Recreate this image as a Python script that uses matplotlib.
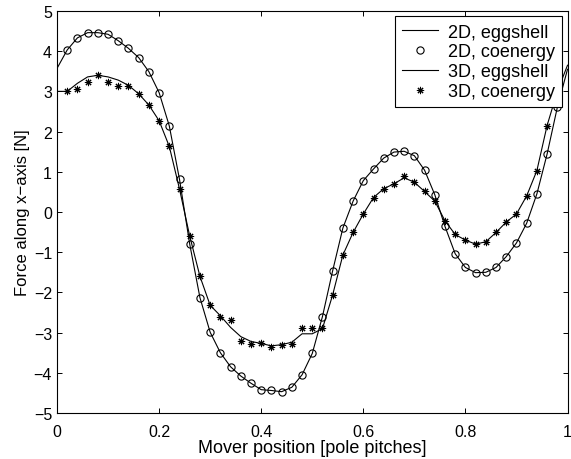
import numpy as np
import matplotlib
matplotlib.use("Agg")
import matplotlib.pyplot as plt

plt.rcParams['font.family'] = ['Liberation Sans', 'DejaVu Sans']

# Mover position grid for lines (pole pitches)
x_line = [0.00, 0.02, 0.04, 0.06, 0.08, 0.10, 0.12, 0.14, 0.16, 0.18, 0.20,
          0.22, 0.24, 0.26, 0.28, 0.30, 0.32, 0.34, 0.36, 0.38, 0.40,
          0.42, 0.44, 0.46, 0.48, 0.50, 0.52, 0.54, 0.56, 0.58, 0.60,
          0.62, 0.64, 0.66, 0.68, 0.70, 0.72, 0.74, 0.76, 0.78, 0.80,
          0.82, 0.84, 0.86, 0.88, 0.90, 0.92, 0.94, 0.96, 0.98, 1.00]

f2d_eggshell = [3.57, 4.03, 4.33, 4.46, 4.46, 4.42, 4.26, 4.07, 3.84, 3.49, 2.97,
                2.14, 0.81, -0.80, -2.13, -2.99, -3.50, -3.85, -4.08, -4.26, -4.42,
                -4.44, -4.47, -4.36, -4.05, -3.52, -2.60, -1.46, -0.40, 0.27, 0.78,
                1.07, 1.34, 1.49, 1.51, 1.40, 1.04, 0.43, -0.36, -1.04, -1.38,
                -1.51, -1.50, -1.38, -1.11, -0.77, -0.28, 0.45, 1.44, 2.60, 3.55]

f3d_eggshell = [3.00, 3.00, 3.20, 3.36, 3.40, 3.36, 3.28, 3.15, 2.94, 2.66, 2.27,
                1.63, 0.57, -0.60, -1.60, -2.32, -2.58, -2.87, -3.10, -3.22, -3.27,
                -3.33, -3.30, -3.24, -3.03, -3.03, -2.90, -2.06, -1.07, -0.51, -0.05,
                0.36, 0.58, 0.70, 0.85, 0.74, 0.51, 0.27, -0.22, -0.56, -0.70,
                -0.80, -0.74, -0.51, -0.25, -0.05, 0.40, 1.03, 2.15, 3.00, 3.65]

# Coenergy samples
x_pts = x_line[1:-1]

f2d_coenergy = [4.03, 4.33, 4.46, 4.46, 4.42, 4.26, 4.07, 3.84, 3.49, 2.97,
                2.14, 0.81, -0.80, -2.13, -2.99, -3.50, -3.85, -4.08, -4.26, -4.42,
                -4.44, -4.47, -4.36, -4.05, -3.52, -2.60, -1.46, -0.40, 0.27, 0.78,
                1.07, 1.34, 1.49, 1.51, 1.40, 1.04, 0.43, -0.36, -1.04, -1.38,
                -1.51, -1.50, -1.38, -1.11, -0.77, -0.28, 0.45, 1.44, 2.60]

f3d_coenergy = [3.00, 3.06, 3.23, 3.41, 3.24, 3.14, 3.13, 2.93, 2.66, 2.27,
                1.63, 0.57, -0.60, -1.60, -2.32, -2.61, -2.68, -3.21, -3.28, -3.27,
                -3.37, -3.31, -3.28, -2.89, -2.89, -2.89, -2.06, -1.07, -0.51, -0.05,
                0.36, 0.58, 0.70, 0.89, 0.74, 0.51, 0.27, -0.22, -0.56, -0.70,
                -0.80, -0.74, -0.51, -0.24, -0.05, 0.40, 1.03, 2.15, 3.00]

xticks = [0, 0.2, 0.4, 0.6, 0.8, 1]
yticks = [-5, -4, -3, -2, -1, 0, 1, 2, 3, 4, 5]

fig = plt.figure(figsize=(5.71, 4.60), dpi=100)
ax = fig.add_axes([0.0998, 0.1, 0.8941, 0.874])

ax.plot(x_line, f2d_eggshell, '-', color='black', lw=0.8, label='2D, eggshell')
ax.plot(x_pts, f2d_coenergy, 'o', mfc='none', mec='black', ms=5.2, mew=0.8,
        label='2D, coenergy')
ax.plot(x_line, f3d_eggshell, '-', color='black', lw=0.8, label='3D, eggshell')
ax.plot(x_pts, f3d_coenergy, linestyle='none', marker=(8, 2, 0), color='black',
        ms=5.2, mew=0.75, label='3D, coenergy')

ax.set_xlim(0, 1)
ax.set_ylim(-5, 5)
ax.set_xticks(xticks)
ax.set_xticklabels(['0', '0.2', '0.4', '0.6', '0.8', '1'])
ax.set_yticks(yticks)
ax.set_yticklabels([str(v).replace('-', '\u2212') for v in yticks])
ax.tick_params(direction='in', length=3.6, width=0.7, top=True, right=True,
               labelsize=11.5)
ax.tick_params(axis='x', pad=8)
ax.tick_params(axis='y', pad=3.5)
for s in ax.spines.values():
    s.set_linewidth(0.8)

ax.set_xlabel('Mover position [pole pitches]', fontsize=13, labelpad=0)
ax.set_ylabel('Force along x\u2212axis [N]', fontsize=12, labelpad=3)

leg = ax.legend(loc='upper right', fontsize=13, frameon=True, fancybox=False,
                edgecolor='black', framealpha=1, borderaxespad=0.3,
                labelspacing=0.16, handlelength=2.0, handletextpad=0.55,
                borderpad=0.4, numpoints=1)
leg.get_frame().set_linewidth(0.8)

fig.savefig('out.png', dpi=100)
